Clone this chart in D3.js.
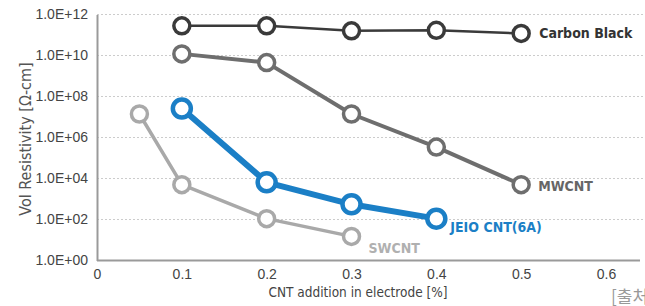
<!DOCTYPE html>
<html>
<head>
<meta charset="utf-8">
<script src="https://cdn.jsdelivr.net/npm/d3@7"></script>
<style>
  body { margin: 0; background: #fff; }
  svg { display: block; font-family: "Liberation Sans Narrow", "DejaVu Sans Condensed", sans-serif; }
</style>
</head>
<body>
<svg id="chart"></svg>
<script>
// data
const xTicks = [0, 0.1, 0.2, 0.3, 0.4, 0.5, 0.6];
const yTicks = [1, 1e2, 1e4, 1e6, 1e8, 1e10, 1e12];

const carbonX = [0.1, 0.2, 0.3, 0.4, 0.5];
const carbonY = [2.8e11, 2.8e11, 1.6e11, 1.7e11, 1.2e11];

const mwcntX = [0.1, 0.2, 0.3, 0.4, 0.5];
const mwcntY = [1.2e10, 4.5e9, 1.4e7, 3.4e5, 5e3];

const jeioX = [0.1, 0.2, 0.3, 0.4];
const jeioY = [2.6e7, 6.5e3, 5.5e2, 1.1e2];

const swcntX = [0.05, 0.1, 0.2, 0.3];
const swcntY = [1.4e7, 5e3, 1.1e2, 1.5e1];

const seriesNames = ["Carbon Black", "MWCNT", "JEIO CNT(6A)", "SWCNT"];

const W = 645, H = 306;
const svg = d3.select("#chart").attr("width", W).attr("height", H);

const x = d3.scaleLinear().domain([0, 0.6]).range([97, 606]);
const y = d3.scaleLog().domain([1, 1e12]).range([260.5, 14.5]);

// dashed grid
svg.append("g").selectAll("line")
  .data(yTicks.slice(1))
  .enter().append("line")
    .attr("x1", 97).attr("x2", W)
    .attr("y1", d => y(d)).attr("y2", d => y(d))
    .attr("stroke", "#cccccc")
    .attr("stroke-width", 1)
    .attr("stroke-dasharray", "2,2");

// y axis
const yAxis = svg.append("g")
  .attr("transform", "translate(97,0)")
  .call(d3.axisLeft(y).tickValues(yTicks).tickSize(0).tickPadding(9)
    .tickFormat(d => "1.0E+" + String(Math.round(Math.log10(d))).padStart(2, "0")));
yAxis.select(".domain").attr("stroke", "#9a9a9a").attr("stroke-width", 2);
yAxis.selectAll("text").attr("font-size", 14).attr("fill", "#444").attr("font-family", "inherit");

// x axis
const xAxis = svg.append("g")
  .attr("transform", "translate(0,260.5)")
  .call(d3.axisBottom(x).tickValues(xTicks).tickSize(0).tickPadding(9)
    .tickFormat(d => d === 0 ? "0" : d3.format(".1f")(d)));
xAxis.select(".domain").attr("stroke", "#9a9a9a").attr("stroke-width", 2)
  .attr("d", "M97,0H640");
xAxis.selectAll("text").attr("font-size", 14).attr("fill", "#444").attr("font-family", "inherit");

// axis titles
svg.append("text")
  .attr("transform", "translate(31,139) rotate(-90)")
  .attr("text-anchor", "middle")
  .attr("font-size", 16)
  .attr("fill", "#555")
  .text("Vol Resistivity [\u03A9-cm]");

svg.append("text")
  .attr("x", 358).attr("y", 297)
  .attr("text-anchor", "middle")
  .attr("font-size", 13.5)
  .attr("fill", "#444")
  .text("CNT addition in electrode [%]");

svg.append("text")
  .attr("x", 611).attr("y", 303)
  .attr("font-size", 17)
  .attr("fill", "#999")
  .attr("font-family", "Noto Sans CJK KR")
  .text("[출처");

// series
const series = [
  { name: seriesNames[0], xs: carbonX, ys: carbonY, color: "#3a3a3a", lw: 2.5, r: 8, sw: 3.5 },
  { name: seriesNames[1], xs: mwcntX, ys: mwcntY, color: "#6e6e6e", lw: 4, r: 8, sw: 3.5 },
  { name: seriesNames[3], xs: swcntX, ys: swcntY, color: "#a9a9a9", lw: 3.5, r: 8, sw: 3.5 },
  { name: seriesNames[2], xs: jeioX, ys: jeioY, color: "#1b7fc6", lw: 6, r: 9, sw: 4.5 }
];

const line = d3.line().x(d => x(d[0])).y(d => y(d[1]));

series.forEach(s => {
  const pts = s.xs.map((v, i) => [v, s.ys[i]]);
  const g = svg.append("g");
  g.append("path")
    .attr("d", line(pts))
    .attr("fill", "none")
    .attr("stroke", s.color)
    .attr("stroke-width", s.lw)
    .attr("stroke-linejoin", "round");
  g.selectAll("circle")
    .data(pts)
    .enter().append("circle")
      .attr("cx", d => x(d[0]))
      .attr("cy", d => y(d[1]))
      .attr("r", s.r)
      .attr("fill", "#fff")
      .attr("stroke", s.color)
      .attr("stroke-width", s.sw);
});

// series labels
const labels = [
  { text: seriesNames[0], xv: 0.5, yv: carbonY[4], dx: 18, dy: 5, color: "#333" },
  { text: seriesNames[1], xv: 0.5, yv: mwcntY[4], dx: 17, dy: 6, color: "#666" },
  { text: seriesNames[2], xv: 0.4, yv: jeioY[3], dx: 14, dy: 13, color: "#1b7fc6" },
  { text: seriesNames[3], xv: 0.3, yv: swcntY[3], dx: 17, dy: 17, color: "#b0b0b0" }
];
svg.append("g").selectAll("text")
  .data(labels)
  .enter().append("text")
    .attr("x", d => x(d.xv) + d.dx)
    .attr("y", d => y(d.yv) + d.dy)
    .attr("font-size", 14)
    .attr("font-weight", "bold")
    .attr("fill", d => d.color)
    .text(d => d.text);
</script>
</body>
</html>
